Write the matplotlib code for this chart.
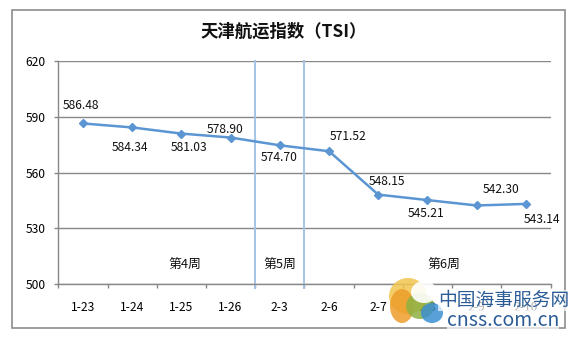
import matplotlib.pyplot as plt
from matplotlib.patches import Rectangle, Ellipse

plt.rcParams['font.family'] = ['Noto Sans CJK SC', 'DejaVu Sans']

# 数据
dates = ['1-23', '1-24', '1-25', '1-26', '2-3', '2-6', '2-7', '2-8', '2-9', '2-10']
tsi = [586.48, 584.34, 581.03, 578.90, 574.70, 571.52, 548.15, 545.21, 542.30, 543.14]
weeks = ['第4周', '第5周', '第6周']
week_x = [2.07, 4.0, 7.34]
week_lines = [3.5, 4.5]

# 数据标签偏移 (像素)
lab_off = [(-2, 18), (-2, -20), (8, -14), (-5, 8), (-1, -12),
           (19, 15), (9, 13), (-1, -13), (24, 16), (16, -16)]

line_c = '#5b96d3'
vline_c = '#a3c4e6'
grid_c = '#888888'
fs = 8.7

fig = plt.figure(figsize=(5.8, 3.38), dpi=100)
ax = fig.add_axes([58.3 / 580, 0.1598, 492.2 / 580, 0.659])

# 外框
fig.patches.append(Rectangle((11.5 / 580, 9.7 / 338), 553.5 / 580, 318 / 338,
                             transform=fig.transFigure, fill=False,
                             edgecolor='#8c8c8c', lw=1.2))

x = list(range(len(dates)))
ax.plot(x, tsi, color=line_c, lw=1.8, marker='D', ms=4.2, zorder=3)

for i, v in enumerate(tsi):
    ax.annotate(f'{v:.2f}', (i, v), xytext=lab_off[i], textcoords='offset pixels',
                ha='center', va='center', fontsize=fs, color='#111111')

for xv in week_lines:
    ax.axvline(xv, ymin=-0.018, ymax=1, color=vline_c, lw=1.4, clip_on=False, zorder=2)

for w, xv in zip(weeks, week_x):
    ax.text(xv, 510.2, w, ha='center', va='center', fontsize=9.3, color='#111111')

ax.set_xlim(-0.5, 9.5)
ax.set_ylim(500, 620)
ax.set_yticks([500, 530, 560, 590, 620])
ax.yaxis.grid(True, color=grid_c, lw=1.0)
ax.set_axisbelow(True)
ax.set_xticks([i - 0.5 for i in range(11)])
ax.set_xticklabels([])
ax.set_xticks(x, minor=True)
ax.set_xticklabels(dates, minor=True, fontsize=fs)
ax.tick_params(axis='x', which='major', length=3, width=1, color=grid_c, direction='out')
ax.tick_params(axis='x', which='minor', length=0, pad=12)
ax.tick_params(axis='y', length=3, width=1, color=grid_c, labelsize=fs, pad=6)

for sp in ['top', 'right']:
    ax.spines[sp].set_visible(False)
for sp in ['left', 'bottom']:
    ax.spines[sp].set_color(grid_c)
    ax.spines[sp].set_linewidth(1.0)

fig.text(284 / 580, 0.906, '天津航运指数（TSI）', ha='center', va='center',
         fontsize=12.5, fontweight='bold', color='#111111')

# 水印
for (cx, cy, w, h, c) in [(408, 296, 38, 36, '#f2c64e'), (402, 306, 24, 34, '#ee9d2a'),
                          (420, 306, 28, 26, '#8db042'), (432, 313, 22, 20, '#3b8fd0')]:
    fig.patches.append(Ellipse((cx / 580, 1 - cy / 338), w / 580, h / 338,
                               transform=fig.transFigure, color=c, alpha=0.85, lw=0))
fig.patches.append(Ellipse((424 / 580, 1 - 292 / 338), 26 / 580, 22 / 338,
                           transform=fig.transFigure, color='white', alpha=0.9, lw=0))
fig.text(504 / 580, 1 - 300 / 338, '中国海事服务网', ha='center', va='center',
         fontsize=13.5, color='#2b5c97',
         bbox=dict(facecolor='white', alpha=0.7, lw=0, pad=0))
fig.text(503 / 580, 1 - 320 / 338, 'cnss.com.cn', ha='center', va='center',
         fontsize=14, color='#2b5c97',
         bbox=dict(facecolor='white', alpha=0.7, lw=0, pad=0))

plt.savefig('out.png', dpi=100)
